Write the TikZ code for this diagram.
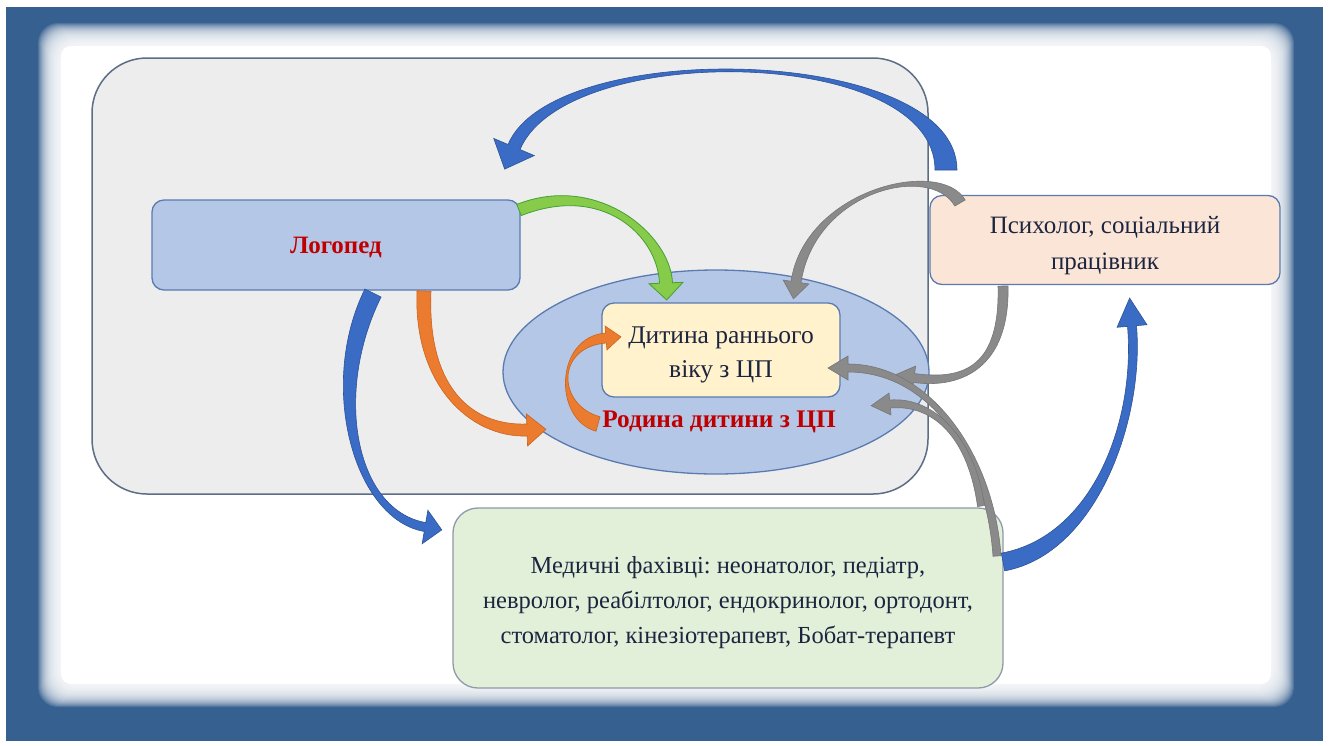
\documentclass[tikz,border=0pt]{standalone}
\usepackage{fontspec}
\setmainfont{Liberation Serif}
\frenchspacing
\usetikzlibrary{calc,shapes.geometric}
\definecolor{frameblue}{HTML}{36608F}
\definecolor{grpfill}{HTML}{EDEDED}
\definecolor{grpline}{HTML}{5E6D86}
\definecolor{lfill}{HTML}{B4C7E7}
\definecolor{lline}{HTML}{5A7BB0}
\definecolor{yfill}{HTML}{FFF2CC}
\definecolor{pfill}{HTML}{FBE5D6}
\definecolor{gfill}{HTML}{E2F0D9}
\definecolor{txt}{HTML}{1C2540}
\definecolor{redt}{HTML}{C00000}
\definecolor{ablue}{HTML}{3A6CC6}
\definecolor{ablueD}{HTML}{2C5394}
\definecolor{agray}{HTML}{8A8A8A}
\definecolor{agrayD}{HTML}{767676}
\definecolor{aor}{HTML}{EB7C2F}
\definecolor{aorD}{HTML}{C8641E}
\definecolor{agr}{HTML}{86CB4A}
\definecolor{agrD}{HTML}{46A032}
% tapered curved arrow: [style]{P0}{P1}{P2}{P3}{tail width}{body width at head}{head width}{head length}
\newcommand{\carrow}[9][]{%
 \path[#1] ($(#2)!#6/2*1pt!90:(#3)$) .. controls ($(#3)!#6/2*1pt!-90:(#2)$) and ($(#4)!#7/2*1pt!90:(#5)$) .. ($(#5)!#7/2*1pt!-90:(#4)$)
   -- ($(#5)!#8/2*1pt!-90:(#4)$) -- ($(#5)!-#9*1pt!(#4)$) -- ($(#5)!#8/2*1pt!90:(#4)$)
   -- ($(#5)!#7/2*1pt!90:(#4)$) .. controls ($(#4)!#7/2*1pt!-90:(#5)$) and ($(#3)!#6/2*1pt!90:(#2)$) .. ($(#2)!#6/2*1pt!-90:(#3)$) -- cycle;}
\begin{document}
\begin{tikzpicture}[x=1pt,y=-1pt,
  box/.style={rectangle,rounded corners=12pt,line width=1.3pt,inner sep=0pt},
  label text/.style={align=center,text=txt,inner sep=0pt},
  blue arrow/.style={fill=ablue,draw=ablueD,line width=0.6pt},
  gray arrow/.style={fill=agray,draw=agrayD,line width=0.6pt},
  orange arrow/.style={fill=aor,draw=aorD,line width=0.6pt},
  green arrow/.style={fill=agr,draw=agrD,line width=0.8pt}]
\useasboundingbox (0,0) rectangle (1329,745);
\fill[white] (0,0) rectangle (1329,745);
\fill[frameblue] (6,7) rectangle (1323,741);
\foreach \i in {0,...,23}{
  \fill[white,opacity=0.13,rounded corners=20pt] (38+\i,23+\i) rectangle (1294-\i,707-\i);
}
\fill[white,rounded corners=10pt] (61,46) rectangle (1271,684);
% group
\node[rectangle,rounded corners=55pt,fill=grpfill,draw=grpline,line width=1.5pt,minimum width=836pt,minimum height=436pt,inner sep=0pt] (grp) at (510,276) {};
\node[box,fill=lfill,draw=lline,minimum width=368pt,minimum height=90pt] (logo) at (336,245) {};
\node[label text,text=redt,font=\bfseries\fontsize{25}{30}\selectfont] (logot) at (336,247) {Логопед};
\node[ellipse,fill=lfill,draw=lline,line width=1.3pt,minimum width=426pt,minimum height=204pt,inner sep=0pt] (fam) at (716,372) {};
\node[box,fill=yfill,draw=lline,minimum width=238pt,minimum height=94pt] (child) at (721,350) {};
\node[label text,font=\fontsize{25.5}{34}\selectfont] (childt) at (721,355) {Дитина раннього\\віку з ЦП};
\node[label text,text=redt,font=\bfseries\fontsize{25.3}{30}\selectfont] (famt) at (719,422) {Родина дитини з ЦП};
\node[box,fill=pfill,draw=lline,minimum width=350pt,minimum height=89pt] (psy) at (1105,240) {};
\node[label text,font=\fontsize{25}{36}\selectfont] (psyt) at (1105,246) {Психолог, соціальний\\працівник};
\node[box,rounded corners=25pt,fill=gfill,draw=grpline!70,minimum width=550pt,minimum height=180pt] (med) at (728,598) {};
\node[label text,font=\fontsize{24.5}{35}\selectfont] (medt) at (728,603) {Медичні фахівці: неонатолог, педіатр,\\невролог, реабілтолог, ендокринолог, ортодонт,\\стоматолог, кінезіотерапевт, Бобат-терапевт};
% arrow coordinates
\coordinate (a1s) at (946,170); \coordinate (a1e) at (514,147);
\coordinate (a2s) at (519,210); \coordinate (a2e) at (666,283);
\coordinate (a3s) at (960,203); \coordinate (a3e) at (796,282);
\coordinate (a4s) at (1003,286); \coordinate (a4e) at (914,378);
\coordinate (a5s) at (997,556); \coordinate (a5e) at (848,368);
\coordinate (a6s) at (981,506); \coordinate (a6e) at (890,404);
\coordinate (a7s) at (1003,562); \coordinate (a7e) at (1132,326);
\coordinate (a8s) at (373,293); \coordinate (a8e) at (425,527);
\coordinate (a9s) at (424,291); \coordinate (a9e) at (527,430);
\coordinate (a10s) at (598,424); \coordinate (a10e) at (606,338);
% arrows
\carrow[blue arrow]{a1s}{946,45}{560,38}{a1e}{22}{13}{44}{24}
\carrow[green arrow]{a2s}{600,178}{664,235}{a2e}{12}{13}{34}{17}
\carrow[gray arrow]{a3s}{935,160}{810,190}{a3e}{12}{10}{26}{17}
\carrow[gray arrow]{a4s}{1005,365}{965,385}{a4e}{10}{9}{24}{20}
\carrow[gray arrow]{a5s}{990,455}{930,368}{a5e}{8}{8}{24}{20}
\carrow[gray arrow]{a6s}{972,440}{935,400}{a6e}{7}{8}{22}{19}
\carrow[blue arrow]{a7s}{1095,545}{1140,420}{a7e}{18}{9}{30}{28}
\carrow[blue arrow]{a8s}{325,390}{355,515}{a8e}{18}{9}{34}{17}
\carrow[orange arrow]{a9s}{420,385}{470,432}{a9e}{14}{12}{32}{19}
\carrow[orange arrow]{a10s}{555,412}{555,342}{a10e}{15}{10}{24}{15}
\end{tikzpicture}
\end{document}
